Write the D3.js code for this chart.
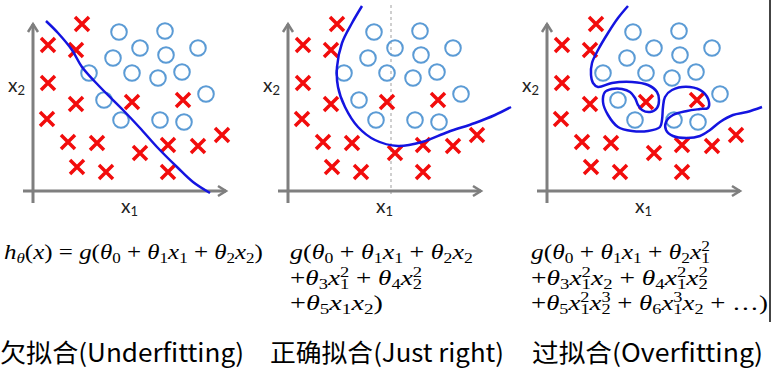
<!DOCTYPE html>
<html>
<head>
    <title>Underfitting / Just right / Overfitting</title>
    <script src="https://d3js.org/d3.v7.min.js"></script>
    <style>
        body { margin: 0; background: #fff; }
        svg { display: block; }
    </style>
</head>
<body>
<div id="chart"></div>
<script>
    // sample points, in axis units (origin = axis corner)
    const crosses = [
        [2.45, 8.35], [0.75, 7.3], [2.15, 7.05], [0.75, 5.4], [2.15, 4.35], [0.7, 3.6],
        [4.95, 4.45], [7.5, 4.55], [1.75, 2.45], [3.2, 2.4], [5.35, 1.9], [6.75, 2.3],
        [8.25, 2.25], [9.45, 2.8], [2.2, 1.2], [3.65, 0.95], [6.75, 0.95]
    ];
    const circles = [
        [4.3, 7.95], [6.6, 8.0], [5.35, 7.15], [6.65, 6.8], [8.25, 7.15], [4.0, 6.65],
        [2.8, 5.9], [4.95, 5.9], [6.25, 5.65], [7.45, 5.95], [8.65, 4.85], [3.55, 4.55],
        [4.4, 3.55], [6.35, 3.55], [7.55, 3.45]
    ];

    // decision boundaries for the three panels
    const boundaryLinear = [
        [0.65, 8.5], [1.25, 7.9], [1.95, 7.05], [2.45, 6.2], [3.35, 5.2], [4.5, 4.05],
        [5.35, 3.15], [6.2, 2.2], [7.2, 1.2], [8.0, 0.45], [8.85, -0.1]
    ];
    const boundaryQuad = [
        [3.7, 9.25], [3.2, 8.4], [2.7, 7.4], [2.45, 6.2], [2.5, 5.2], [2.85, 4.2],
        [3.5, 3.2], [4.35, 2.55], [5.5, 2.25], [6.7, 2.45], [8.0, 2.95], [9.35, 3.4],
        [10.35, 3.8], [11.15, 4.2]
    ];
    const boundaryOver = [
        [4.05, 9.25], [3.55, 8.65], [3.05, 7.9], [2.55, 7.05], [2.25, 6.4], [2.2, 5.8],
        [2.3, 5.4], [2.55, 5.2], [3.25, 5.4], [4.25, 5.45], [5.05, 5.3], [5.5, 4.95],
        [5.6, 4.55], [5.5, 4.15], [5.15, 3.95], [4.75, 4.05], [4.55, 4.3], [4.4, 4.65],
        [4.15, 4.95], [3.75, 5.1], [3.25, 5.1], [2.9, 4.95], [2.8, 4.45], [3.05, 3.8],
        [3.55, 3.2], [4.25, 3.0], [5.05, 3.0], [5.65, 3.2], [5.75, 3.55], [5.8, 4.2],
        [5.9, 4.7], [6.25, 5.05], [7.15, 5.2], [7.8, 4.95], [8.1, 4.45], [8.05, 4.15],
        [7.65, 4.1], [7.0, 4.0], [6.3, 3.8], [5.95, 3.45], [5.95, 3.05], [6.3, 2.75],
        [7.0, 2.65], [7.65, 2.75], [8.15, 3.05], [8.65, 3.45], [9.3, 3.8], [10.0, 3.95],
        [10.75, 4.2]
    ];
    const boundaries = [boundaryLinear, boundaryQuad, boundaryOver];
    const dashedX = 5.15;

    const formulas = [
        ['h_θ(x) = g(θ_0 + θ_1x_1 + θ_2x_2)'],
        ['g(θ_0 + θ_1x_1 + θ_2x_2', '+θ_3x_1^2 + θ_4x_2^2', '+θ_5x_1x_2)'],
        ['g(θ_0 + θ_1x_1 + θ_2x_1^2', '+θ_3x_1^2x_2 + θ_4x_1^2x_2^2', '+θ_5x_1^2x_2^3 + θ_6x_1^3x_2 + …)']
    ];
    const captions = ['欠拟合(Underfitting)', '正确拟合(Just right)', '过拟合(Overfitting)'];

    const width = 772;
    const height = 378;
    const panelX = [0, 255, 514];
    const formulaPos = [
        { x: 4, w: [259] },
        { x: 290, w: [183, 132, 93] },
        { x: 531, w: [179, 177, 237] }
    ];
    const captionPos = [{ x: 0, w: 244 }, { x: 270, w: 234 }, { x: 532, w: 231 }];

    const svg = d3.select('#chart')
        .append('svg')
        .attr('width', width)
        .attr('height', height);

    const x = d3.scaleLinear().domain([0, 10]).range([33, 233]);
    const y = d3.scaleLinear().domain([0, 10]).range([191, -9]);
    const line = d3.line().x(d => x(d[0])).y(d => y(d[1])).curve(d3.curveCatmullRom);

    const axisColor = '#7f7f7f';

    panelX.forEach((px, i) => {
        const g = svg.append('g').attr('transform', `translate(${px},0)`);

        if (i === 1) {
            g.append('line')
                .attr('x1', x(dashedX)).attr('x2', x(dashedX))
                .attr('y1', y(9.3)).attr('y2', y(-0.3))
                .attr('stroke', '#b0b0b0')
                .attr('stroke-width', 1.2)
                .attr('stroke-dasharray', '3,3');
        }

        // axes with open arrow heads
        g.append('line')
            .attr('x1', x(0)).attr('x2', x(0))
            .attr('y1', y(-0.6)).attr('y2', y(8.35))
            .attr('stroke', axisColor).attr('stroke-width', 3);
        g.append('line')
            .attr('x1', x(-0.5)).attr('x2', x(9.65))
            .attr('y1', y(0)).attr('y2', y(0))
            .attr('stroke', axisColor).attr('stroke-width', 3);
        g.append('path')
            .attr('d', `M${x(0) - 5},${y(8.35) + 8}L${x(0)},${y(8.35)}L${x(0) + 5},${y(8.35) + 8}`)
            .attr('fill', 'none').attr('stroke', axisColor).attr('stroke-width', 2.5);
        g.append('path')
            .attr('d', `M${x(9.65) - 8},${y(0) - 5}L${x(9.65)},${y(0)}L${x(9.65) - 8},${y(0) + 5}`)
            .attr('fill', 'none').attr('stroke', axisColor).attr('stroke-width', 2.5);

        // axis labels
        const lab2 = g.append('text').attr('x', 8).attr('y', 92)
            .attr('font-family', 'Lato, "Open Sans", sans-serif').attr('font-size', 19).attr('fill', '#222');
        lab2.append('tspan').text('x');
        lab2.append('tspan').attr('dy', 3).attr('font-size', 13).text('2');
        const lab1 = g.append('text').attr('x', 121).attr('y', 213)
            .attr('font-family', 'Lato, "Open Sans", sans-serif').attr('font-size', 19).attr('fill', '#222');
        lab1.append('tspan').text('x');
        lab1.append('tspan').attr('dy', 3).attr('font-size', 13).text('1');

        g.selectAll('.cross')
            .data(crosses)
            .enter()
            .append('path')
            .attr('class', 'cross')
            .attr('d', d => {
                const cx = x(d[0]), cy = y(d[1]), s = 7;
                return `M${cx - s},${cy - s}L${cx + s},${cy + s}M${cx - s},${cy + s}L${cx + s},${cy - s}`;
            })
            .attr('stroke', '#f20c0c')
            .attr('stroke-width', 3.5)
            .attr('fill', 'none');

        g.selectAll('.circ')
            .data(circles)
            .enter()
            .append('circle')
            .attr('class', 'circ')
            .attr('cx', d => x(d[0]))
            .attr('cy', d => y(d[1]))
            .attr('r', 7.8)
            .attr('fill', 'none')
            .attr('stroke', '#5b9bd5')
            .attr('stroke-width', 2);

        g.append('path')
            .datum(boundaries[i])
            .attr('d', line)
            .attr('fill', 'none')
            .attr('stroke', '#1414e0')
            .attr('stroke-width', 2.5)
            .attr('stroke-linejoin', 'round');
    });

    // right edge rule of the source slide
    svg.append('line')
        .attr('x1', 770).attr('x2', 770).attr('y1', 0).attr('y2', 322)
        .attr('stroke', '#444').attr('stroke-width', 2);

    // tiny TeX-like renderer: letters italic, _c subscript, ^c superscript
    function parse(str) {
        const out = [];
        for (let k = 0; k < str.length; k++) {
            const c = str[k];
            if (c === '_' || c === '^') {
                const n = str[++k];
                const prev = out[out.length - 1];
                out.push({ s: n, lvl: c === '_' ? -1 : 1, it: /[a-zθ]/.test(n),
                    back: c === '^' && prev && prev.lvl === -1 });
            } else {
                out.push({ s: c === ' ' ? '\u00a0' : c, lvl: 0, it: /[a-zθ]/.test(c) });
            }
        }
        return out;
    }

    function drawMath(str, size) {
        const t = svg.append('text')
            .attr('x', 0).attr('y', 0)
            .attr('font-family', '"Liberation Serif", "DejaVu Serif", serif')
            .attr('font-size', size)
            .attr('fill', '#000');
        let cur = 0;
        parse(str).forEach(tk => {
            const shift = tk.lvl === -1 ? size * 0.18 : tk.lvl === 1 ? -size * 0.36 : 0;
            const ts = t.append('tspan').attr('dy', shift - cur).text(tk.s);
            cur = shift;
            if (tk.lvl) ts.attr('font-size', size * 0.68);
            if (tk.it) ts.attr('font-style', 'italic');
            if (tk.back) ts.attr('dx', -size * 0.34);
        });
        return t;
    }

    const baselines = [259, 285, 310];
    formulas.forEach((lines, i) => {
        lines.forEach((s, j) => {
            const t = drawMath(s, 22);
            const sx = formulaPos[i].w[j] / t.node().getBBox().width;
            t.attr('transform', `translate(${formulaPos[i].x},${baselines[j]}) scale(${sx},1)`);
        });
    });

    svg.selectAll('.caption')
        .data(captions)
        .enter()
        .append('text')
        .attr('class', 'caption')
        .attr('x', (d, i) => captionPos[i].x)
        .attr('y', 362)
        .attr('font-family', '"Noto Sans CJK SC", sans-serif')
        .attr('font-size', 25)
        .attr('fill', '#000')
        .attr('textLength', (d, i) => captionPos[i].w)
        .attr('lengthAdjust', 'spacingAndGlyphs')
        .text(d => d);
</script>
</body>
</html>
